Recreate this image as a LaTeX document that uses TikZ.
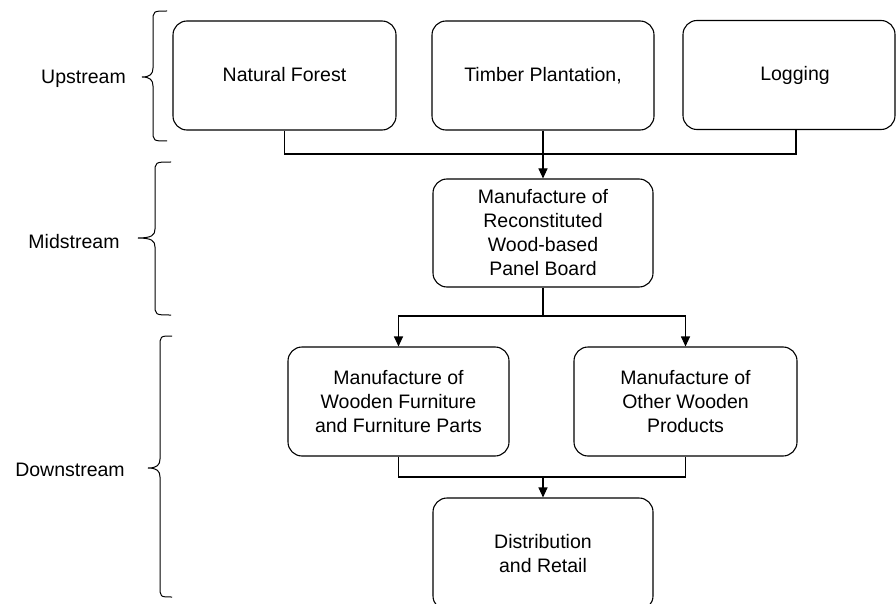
\documentclass[tikz,border=0pt]{standalone}
\usepackage{fontspec}
\setmainfont{Liberation Sans}
\usetikzlibrary{arrows.meta}
\newcommand{\mybrace}[6]{% endx, spinex, tipx, top, tipy, bottom
  \draw[bracel] (#1,#4) .. controls (#2,#4) .. (#2,#4+11) -- (#2,#5-9)
    .. controls (#2,#5-3) and (#2-3,#5) .. (#3,#5)
    .. controls (#2-3,#5) and (#2,#5+3) .. (#2,#5+9) -- (#2,#6-11)
    .. controls (#2,#6) .. (#1,#6);}
\begin{document}
\begin{tikzpicture}[x=1pt,y=-1pt,
  box/.style={draw, line width=1.1pt, rounded corners=14pt, align=center,
    font=\fontsize{19.5}{24}\selectfont, inner sep=0pt},
  lbl/.style={font=\fontsize{19.5}{24}\selectfont, inner sep=0pt},
  conn/.style={line width=1.1pt},
  arr/.style={line width=1.1pt, -{Triangle[length=10pt,width=9pt]}},
  bracel/.style={line width=1pt}]
\useasboundingbox (0,0) rectangle (896,604);
% boxes
\node[box, minimum width=223pt, minimum height=109pt] (nf) at (284.5,75.5) {\raisebox{-2pt}{Natural Forest}\vphantom{g}};
\node[box, minimum width=222pt, minimum height=109pt] (tp) at (543,75.5) {\raisebox{-2pt}{Timber Plantation,}\vphantom{g}};
\node[box, minimum width=212pt, minimum height=109pt] (lg) at (789,75) {\hspace*{12pt}\raisebox{-2pt}{Logging}};
\node[box, minimum width=220pt, minimum height=108pt] (mid) at (543,233)
  {Manufacture of\\Reconstituted\\Wood-based\\Panel Board};
\node[box, minimum width=221pt, minimum height=109pt] (wf) at (398.5,401.5)
  {Manufacture of\\Wooden Furniture\\and Furniture Parts};
\node[box, minimum width=223pt, minimum height=109pt] (ow) at (685.5,401.5)
  {Manufacture of\\Other Wooden\\Products};
\node[box, minimum width=220pt, minimum height=112pt] (dr) at (543,554)
  {Distribution\\and Retail};
% labels
\node[lbl] (up) at (83.5,79) {Upstream};
\node[lbl] (md) at (74,242) {Midstream};
\node[lbl] (dn) at (70,470) {Downstream};
% braces
\mybrace{167}{153}{142}{11}{77}{141}
\mybrace{171}{155}{138}{162}{238}{315}
\mybrace{172}{160}{148}{336}{468}{597}
% connectors
\coordinate (j1) at (543,154);
\coordinate (lgd) at (796,129.5);
\draw[conn] (nf.south) |- (j1) -| (lgd);
\draw[arr] (tp.south) -- (mid.north);
\coordinate (j2) at (543,316);
\draw[conn] (mid.south) -- (j2);
\draw[arr] (j2) -| (wf.north);
\draw[arr] (j2) -| (ow.north);
\coordinate (j3) at (543,477);
\draw[conn] (wf.south) |- (j3) -| (ow.south);
\draw[arr] (j3) -- (dr.north);
\end{tikzpicture}
\end{document}
